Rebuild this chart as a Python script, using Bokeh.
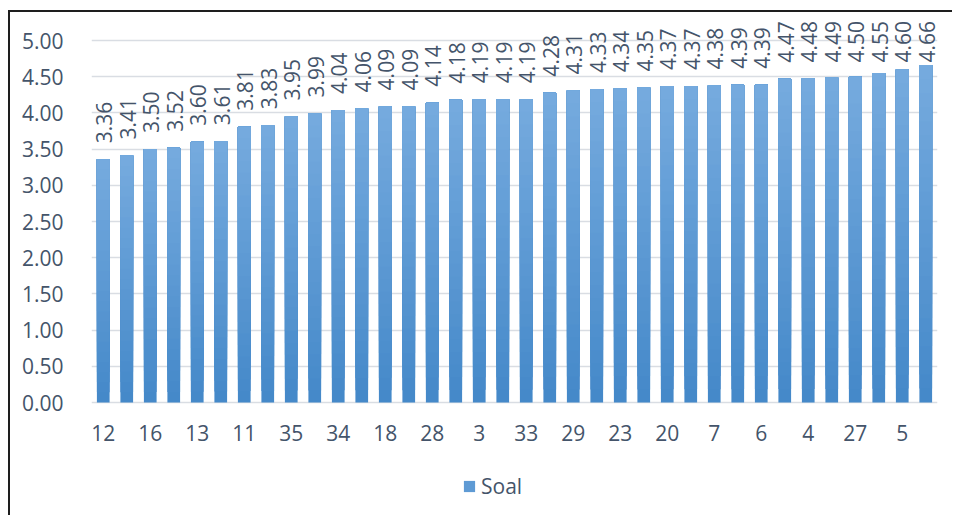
import numpy as np
from bokeh.plotting import figure
from bokeh.models import (ColumnDataSource, LabelSet, FixedTicker, Legend, LegendItem,
                          Range1d, NumeralTickFormatter)
from bokeh.embed import file_html
from bokeh.resources import INLINE
from bokeh.core.properties import value

# Question numbers, sorted by mean score (only every other one is labelled on the axis)
questions = ["12", "1", "16", "2", "13", "8", "11", "9", "35", "10", "34", "14",
             "18", "15", "28", "17", "3", "19", "33", "21", "29", "22", "23", "24",
             "20", "25", "7", "26", "6", "30", "4", "31", "27", "32", "5", "36"]
scores = [3.36, 3.41, 3.50, 3.52, 3.60, 3.61, 3.81, 3.83, 3.95, 3.99, 4.04, 4.06,
          4.09, 4.09, 4.14, 4.18, 4.19, 4.19, 4.19, 4.28, 4.31, 4.33, 4.34, 4.35,
          4.37, 4.37, 4.38, 4.39, 4.39, 4.47, 4.48, 4.49, 4.50, 4.55, 4.60, 4.66]
y_ticks = [0.0, 0.5, 1.0, 1.5, 2.0, 2.5, 3.0, 3.5, 4.0, 4.5, 5.0]
series_name = "Soal"

FONT = "Open Sans"
FONT_SIZE = "21px"
TEXT = "#44546A"
GRID = "#d9dde3"

idx = np.arange(len(scores))
vals = np.array(scores)

# The plotting frame spans the full canvas height so that value labels, category
# labels and the legend are not clipped; 0..5 occupies the middle band.
W, H = 944, 505
PX_PER_UNIT = 72.4
TOP_PAD, BOTTOM_PAD = 28, 115
y_lo = -BOTTOM_PAD / PX_PER_UNIT
y_hi = 5 + TOP_PAD / PX_PER_UNIT

p = figure(width=W, height=H, output_backend="svg", toolbar_location=None,
           x_range=Range1d(-0.5, len(scores) - 0.5), y_range=Range1d(y_lo, y_hi),
           min_border_left=81, min_border_right=17, min_border_top=0,
           min_border_bottom=0)
p.styles = {"margin-left": "8px", "margin-top": "10px",
            "border-left": "2px solid #1e1e1e", "border-top": "2px solid #1e1e1e"}
p.outline_line_color = None
p.background_fill_color = "white"

# vertical gradient inside each bar: darker at the base, lighter at the top
N = 24
c_bot = np.array([0x45, 0x89, 0xC9])
c_top = np.array([0x75, 0xAA, 0xDE])
legend_renderer = None
for i in range(N):
    f = i / (N - 1)
    c = (c_bot + (c_top - c_bot) * f).round().astype(int)
    col = "#%02x%02x%02x" % tuple(c)
    r = p.vbar(x=idx, bottom=vals * i / N, top=vals, width=0.54,
               fill_color=col, line_color=None)
    if i == N // 2:
        legend_renderer = r

# rotated value labels; kept inside the chart area near the top
LABEL_CAP = 4.475
lab_src = ColumnDataSource(dict(x=idx, y=np.minimum(vals, LABEL_CAP),
                                text=[f"{v:.2f}" for v in scores]))
p.add_layout(LabelSet(x="x", y="y", text="text", source=lab_src, angle=np.pi / 2,
                      y_offset=16, x_offset=1, text_align="left",
                      text_baseline="middle", text_font=value(FONT),
                      text_font_size=FONT_SIZE, text_color=TEXT))

# category labels under every other bar
cat_idx = idx[::2]
cat_src = ColumnDataSource(dict(x=cat_idx, y=np.zeros(len(cat_idx)),
                                text=[questions[i] for i in cat_idx]))
p.add_layout(LabelSet(x="x", y="y", text="text", source=cat_src, y_offset=-30,
                      text_align="center", text_baseline="middle",
                      text_font=value(FONT), text_font_size=FONT_SIZE,
                      text_color=TEXT))

# axes and grid
p.xaxis.visible = False
p.xgrid.grid_line_color = None
p.ygrid.grid_line_color = GRID
p.ygrid.grid_line_width = 1.5
p.ygrid.ticker = FixedTicker(ticks=y_ticks)
p.yaxis.ticker = FixedTicker(ticks=y_ticks)
p.yaxis.formatter = NumeralTickFormatter(format="0.00")
p.yaxis.axis_line_color = None
p.yaxis.major_tick_line_color = None
p.yaxis.minor_tick_line_color = None
p.yaxis.major_label_standoff = 22
p.yaxis.major_label_text_font = FONT
p.yaxis.major_label_text_font_size = FONT_SIZE
p.yaxis.major_label_text_color = TEXT

legend = Legend(items=[LegendItem(label=series_name, renderers=[legend_renderer])],
                location=(371, 17), orientation="horizontal", padding=0, margin=0,
                border_line_color=None, background_fill_alpha=0,
                glyph_width=14, glyph_height=14, label_standoff=5,
                label_text_font=FONT, label_text_font_size=FONT_SIZE,
                label_text_color=TEXT)
p.add_layout(legend, "center")

open("out.html", "w").write(file_html(p, INLINE))
